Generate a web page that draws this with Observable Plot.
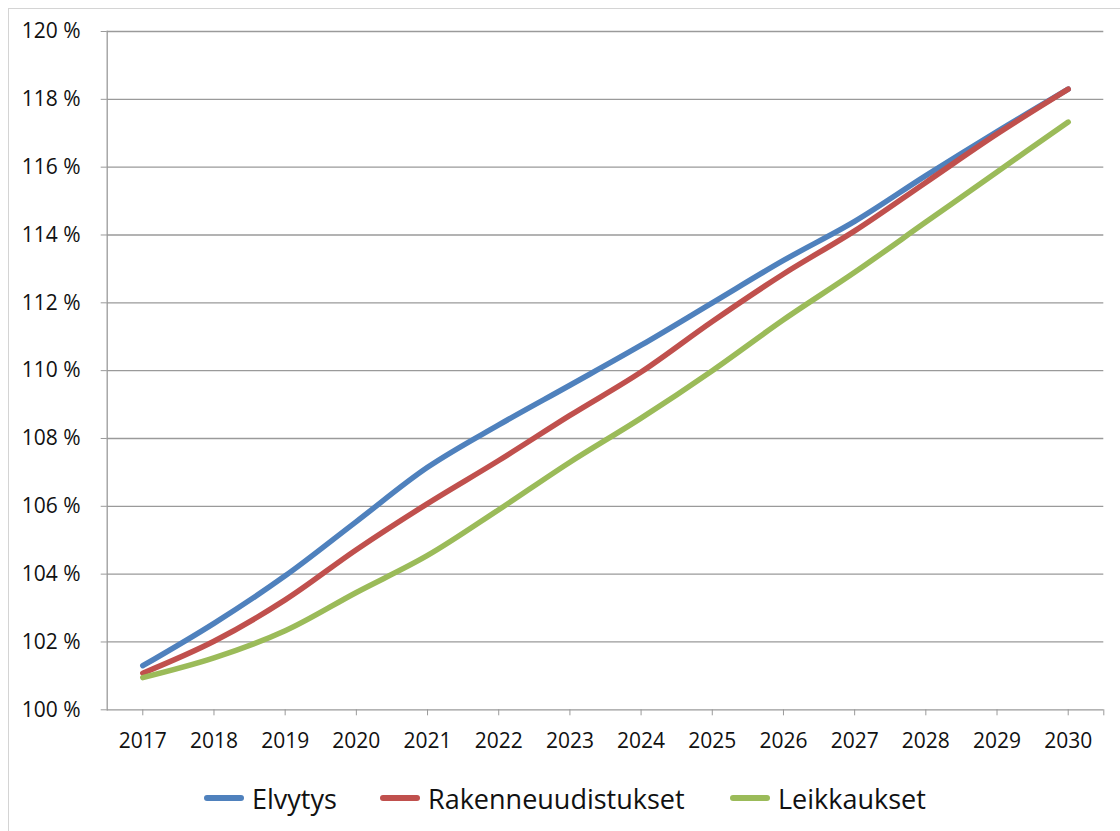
<!DOCTYPE html>
<html>
<head>
<meta charset="utf-8">
<script src="https://cdn.jsdelivr.net/npm/d3@7"></script>
<script src="https://cdn.jsdelivr.net/npm/@observablehq/plot@0.6"></script>
<style>
  html, body { margin: 0; padding: 0; background: #fff; overflow: hidden; width: 1120px; height: 831px; }
  #frame { position: absolute; left: 8px; top: 8px; width: 1200px; height: 900px; border: 1px solid #d4d4d4; box-sizing: border-box; }
  #chart { position: absolute; left: 0; top: 0; }
  #legend { position: absolute; left: 0; top: 780px; width: 1120px; height: 36px; font-family: "Open Sans", sans-serif; font-size: 27px; color: #111; }
  .item { position: absolute; top: 0; display: flex; align-items: center; height: 36px; }
  .sw { width: 40px; height: 6px; border-radius: 3px; margin-right: 8px; }
</style>
</head>
<body>
<div id="frame"></div>
<div id="chart"></div>
<div id="legend"></div>
<script>
const years = [2017, 2018, 2019, 2020, 2021, 2022, 2023, 2024, 2025, 2026, 2027, 2028, 2029, 2030];
const elvytys = [101.3, 102.55, 103.95, 105.55, 107.15, 108.4, 109.57, 110.75, 112.0, 113.25, 114.4, 115.75, 117.05, 118.3];
const rakenne = [101.08, 102.02, 103.24, 104.72, 106.08, 107.35, 108.68, 109.96, 111.45, 112.85, 114.12, 115.55, 116.98, 118.3];
const leikkaukset = [100.95, 101.53, 102.33, 103.46, 104.55, 105.9, 107.3, 108.6, 110.0, 111.5, 112.9, 114.38, 115.86, 117.33];
const seriesNames = ["Elvytys", "Rakenneuudistukset", "Leikkaukset"];
const seriesColors = ["#4F81BD", "#C0504D", "#9BBB59"];
const yTicks = [100, 102, 104, 106, 108, 110, 112, 114, 116, 118, 120];

const seriesValues = [elvytys, rakenne, leikkaukset];
const data = seriesNames.flatMap((name, i) =>
  years.map((year, j) => ({ year, value: seriesValues[i][j], series: name }))
);
const xDomain = [years[0] - 0.5, years[years.length - 1] + 0.5];

const chart = Plot.plot({
  width: 1120,
  height: 770,
  marginLeft: 106.7,
  marginRight: 16.7,
  marginTop: 31,
  marginBottom: 60.7,
  style: { fontFamily: "Open Sans, sans-serif", fontSize: "21px", color: "#111", background: "transparent" },
  x: { type: "linear", domain: xDomain },
  y: { domain: [100, 120] },
  color: { domain: seriesNames, range: seriesColors },
  marks: [
    Plot.gridY(yTicks, { stroke: "#9a9a9a", strokeOpacity: 1, strokeWidth: 1.3 }),
    Plot.axisY(yTicks, { tickSize: 6, tickPadding: 20.7, tickFormat: d => d + " %", stroke: "#9a9a9a", fontSize: 21, label: null }),
    Plot.frame({ anchor: "left", stroke: "#9a9a9a", strokeWidth: 1.3 }),
    Plot.axisX([...years, xDomain[1]], { tickSize: 6, tickPadding: 17, tickFormat: d => Number.isInteger(d) ? String(d) : "", stroke: "#9a9a9a", fontSize: 21, label: null }),
    Plot.line(data, { x: "year", y: "value", z: "series", stroke: "series", strokeWidth: 5.5, curve: "catmull-rom", strokeLinecap: "round" })
  ]
});
document.getElementById("chart").appendChild(chart);

const legend = document.getElementById("legend");
const legendLeft = [204, 380, 730];
seriesNames.forEach((name, i) => {
  const item = document.createElement("div");
  item.className = "item";
  item.style.left = legendLeft[i] + "px";
  item.innerHTML = `<span class="sw" style="background:${seriesColors[i]}"></span><span>${name}</span>`;
  legend.appendChild(item);
});
</script>
</body>
</html>
